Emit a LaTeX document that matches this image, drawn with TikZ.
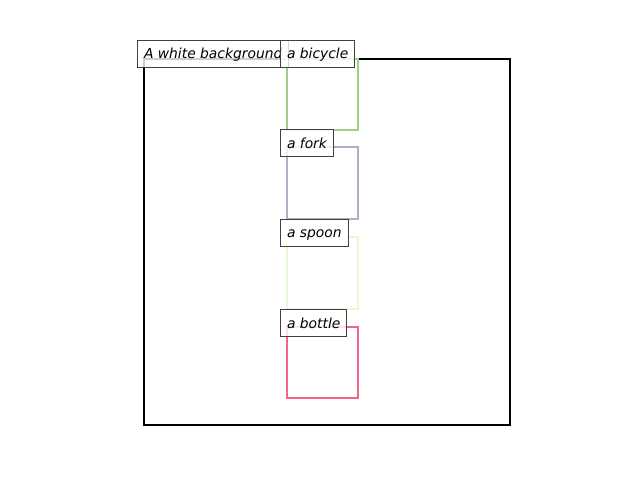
\documentclass[tikz,border=0pt]{standalone}
\usepackage{fontspec}
\setmainfont{DejaVu Sans}
\definecolor{cbike}{RGB}{160,206,138}
\definecolor{cfork}{RGB}{176,174,194}
\definecolor{cspoon}{RGB}{230,250,212}
\definecolor{cbottle}{RGB}{240,100,134}
\begin{document}
\begin{tikzpicture}[x=1bp,y=-1bp,
  lbl/.style={draw=black!75,line width=1bp,fill=white,fill opacity=0.8,text opacity=1,
    anchor=west,inner xsep=6.5bp,inner ysep=0pt,minimum height=27bp,
    text height=11.5bp,text depth=1.5bp,
    font=\fontsize{13.9}{16}\selectfont\itshape},
  obj/.style={line width=2.2bp}]
\useasboundingbox (0,0) rectangle (640,480);
\draw[line width=2.2bp] (144,59) rectangle (510,425);
\draw[obj,cbike] (287,59) rectangle (358,130);
\draw[obj,cfork] (287,147) rectangle (358,219);
\draw[obj,cspoon] (287,237) rectangle (358,309);
\draw[obj,cbottle] (287,327) rectangle (358,398);
\node[lbl] (bg) at (137,54) {A white background};
\node[lbl] (bike) at (280,54) {a bicycle};
\node[lbl] (fork) at (280,143.5) {a fork};
\node[lbl] (spoon) at (280,233) {a spoon};
\node[lbl] (bottle) at (280,323) {a bottle};
\end{tikzpicture}
\end{document}
